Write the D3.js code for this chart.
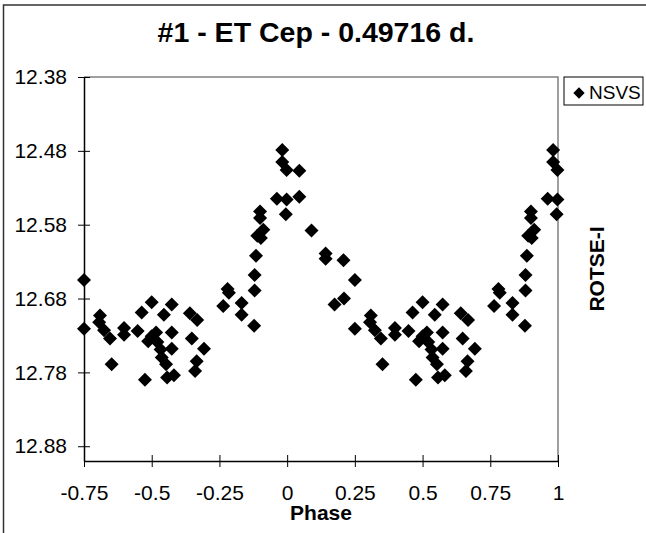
<!DOCTYPE html>
<html>
<head>
<meta charset="utf-8">
<script src="https://cdn.jsdelivr.net/npm/d3@7"></script>
<style>
    body { margin: 0; background: #fff; }
    text { font-family: "Liberation Sans", Arial, sans-serif; fill: #000; }
</style>
</head>
<body>
<script>
// Folded light curve, phase 0..1
const phase = [
    0.045, 0.045, 0.090, 0.142, 0.142, 0.175, 0.208, 0.210,
    0.250, 0.250, 0.306, 0.309, 0.324, 0.346, 0.352, 0.398, 0.398,
    0.448, 0.463, 0.475, 0.487, 0.500, 0.500, 0.516, 0.521, 0.533,
    0.537, 0.545, 0.553, 0.557, 0.574, 0.574, 0.574, 0.582,
    0.641, 0.648, 0.660, 0.666, 0.668, 0.693,
    0.764, 0.780, 0.785, 0.832, 0.832, 0.878, 0.880, 0.880, 0.885,
    0.890, 0.900, 0.900, 0.903, 0.912, 0.962, 0.982, 0.982, 0.998,
    0.998, 0.995
];
const mag = [
    12.507, 12.542, 12.588, 12.619, 12.626, 12.688, 12.628, 12.680,
    12.655, 12.721, 12.712, 12.703, 12.723, 12.734, 12.769, 12.720, 12.729,
    12.724, 12.699, 12.790, 12.738, 12.685, 12.731, 12.726, 12.739, 12.749,
    12.760, 12.702, 12.769, 12.787, 12.688, 12.726, 12.748, 12.784,
    12.700, 12.734, 12.778, 12.765, 12.709, 12.748,
    12.690, 12.667, 12.672, 12.686, 12.702, 12.717, 12.669, 12.648, 12.622,
    12.595, 12.562, 12.571, 12.598, 12.587, 12.545, 12.479, 12.495, 12.506,
    12.546, 12.566
];

const xTicks = [-0.75, -0.5, -0.25, 0, 0.25, 0.5, 0.75, 1];
const xTickLabels = ["-0.75", "-0.5", "-0.25", "0", "0.25", "0.5", "0.75", "1"];
const yTicks = [12.38, 12.48, 12.58, 12.68, 12.78, 12.88];

const titleText = "#1 - ET Cep - 0.49716 d.";
const seriesName = "NSVS";

const width = 646, height = 533;
const plot = {left: 84, right: 558, top: 77, bottom: 461};

const svg = d3.select("body").append("svg")
    .attr("width", width)
    .attr("height", height);

// chart frame (runs off the right and bottom edges)
svg.append("rect")
    .attr("x", 3.5).attr("y", 5)
    .attr("width", 800).attr("height", 800)
    .attr("fill", "none")
    .attr("stroke", "#333")
    .attr("stroke-width", 1.5);

const x = d3.scaleLinear().domain([-0.75, 1]).range([plot.left, plot.right]);
// magnitudes: brighter at the top
const y = d3.scaleLinear().domain([12.38, 12.9]).range([plot.top, plot.bottom]);

// top and right border of the plot area
svg.append("path")
    .attr("d", `M${plot.left},${plot.top}H${plot.right}V${plot.bottom}`)
    .attr("fill", "none")
    .attr("stroke", "#808080")
    .attr("stroke-width", 1.5);

// y axis, ticks cross the line
const yAxis = svg.append("g")
    .attr("transform", `translate(${plot.left},0)`)
    .call(d3.axisLeft(y).tickValues(yTicks).tickFormat(d3.format(".2f"))
        .tickSize(6).tickPadding(11).tickSizeOuter(0));
yAxis.selectAll(".tick line").attr("x1", 6);

const xAxis = svg.append("g")
    .attr("transform", `translate(0,${plot.bottom})`)
    .call(d3.axisBottom(x).tickValues(xTicks).tickFormat((d, i) => xTickLabels[i])
        .tickSize(6).tickPadding(18).tickSizeOuter(0));
xAxis.selectAll(".tick line").attr("y1", -6);

[yAxis, xAxis].forEach(function (a) {
    a.select(".domain").attr("stroke", "#000").attr("stroke-width", 1.5);
    a.selectAll(".tick line").attr("stroke", "#000").attr("stroke-width", 1);
    a.selectAll("text")
        .style("font-family", '"Liberation Sans", Arial, sans-serif')
        .style("font-size", "21px")
        .attr("fill", "#000");
});

// phases >= 0.25 are shown again one cycle earlier
const points = [];
phase.forEach(function (p, i) {
    points.push({p: p, m: mag[i]});
    if (p - 1 >= -0.75 - 1e-9) points.push({p: p - 1, m: mag[i]});
});

const diamond = d3.symbol().type(d3.symbolSquare).size(98);

svg.append("g")
    .selectAll("path")
    .data(points)
    .join("path")
    .attr("d", diamond)
    .attr("transform", d => `translate(${x(d.p)},${y(d.m)}) rotate(45)`)
    .attr("fill", "#000");

// title
svg.append("text")
    .attr("x", (plot.left + plot.right) / 2 - 5)
    .attr("y", 42)
    .attr("text-anchor", "middle")
    .style("font-size", "28.5px")
    .style("font-weight", "bold")
    .text(titleText);

// axis titles
svg.append("text")
    .attr("x", (plot.left + plot.right) / 2)
    .attr("y", 520)
    .attr("text-anchor", "middle")
    .style("font-size", "21px")
    .style("font-weight", "bold")
    .text("Phase");

svg.append("text")
    .attr("transform", `translate(604,${(plot.top + plot.bottom) / 2}) rotate(-90)`)
    .attr("text-anchor", "middle")
    .style("font-size", "21px")
    .style("font-weight", "bold")
    .text("ROTSE-I");

// legend
const legend = svg.append("g").attr("transform", "translate(564,77)");
legend.append("rect")
    .attr("width", 79).attr("height", 28)
    .attr("fill", "#fff")
    .attr("stroke", "#000")
    .attr("stroke-width", 1);
legend.append("path")
    .attr("d", d3.symbol().type(d3.symbolSquare).size(64))
    .attr("transform", "translate(15,16) rotate(45)")
    .attr("fill", "#000");
legend.append("text")
    .attr("x", 25)
    .attr("y", 22)
    .style("font-size", "19px")
    .text(seriesName);
</script>
</body>
</html>
